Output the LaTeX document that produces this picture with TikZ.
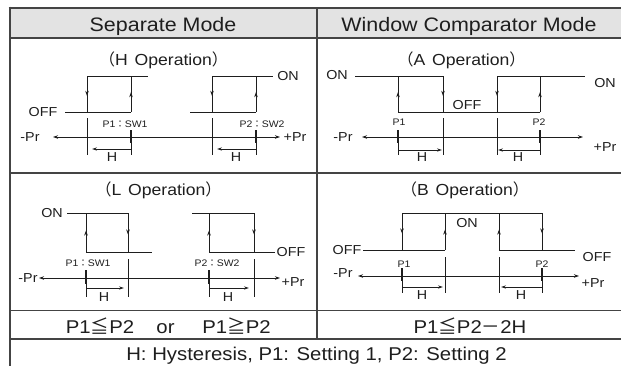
\documentclass[tikz,border=0pt]{standalone}
\usepackage{fontspec}
\setmainfont[FakeStretch=1.1]{Liberation Sans}
\newfontfamily\cjk{Noto Sans CJK JP}
\usetikzlibrary{arrows.meta,decorations.markings}
\definecolor{lc}{HTML}{1E1E1E}
\definecolor{hd}{HTML}{E3E3E3}
\definecolor{bd}{HTML}{444444}
\begin{document}
\begin{tikzpicture}[x=1pt,y=-1pt,
 ln/.style={line width=0.9pt,draw=lc},
 axisline/.style={ln,{Stealth[length=5pt,width=3.5pt]}-{Stealth[length=5pt,width=3.5pt]}},
 harr/.style={ln,-{Stealth[length=5pt,width=3.2pt]}},
 midarr/.style={ln,postaction=decorate,decoration={markings,mark=at position 0.55 with {\arrow{Stealth[length=5pt,width=3.6pt]}}}},
 ptick/.style={line width=1.8pt,draw=lc},
 lab/.style={font=\fontsize{13}{13}\selectfont,text=lc,inner sep=0pt},
 small/.style={font=\fontsize{9.5}{9.5}\selectfont,text=lc,inner sep=0pt},
 ttl/.style={font=\fontsize{16}{16}\selectfont,text=lc,inner sep=0pt,anchor=base},
 hdr/.style={font=\fontsize{19.5}{19.5}\selectfont,text=lc,inner sep=0pt,anchor=base},
 big/.style={font=\fontsize{18.5}{18.5}\selectfont,text=lc,inner sep=0pt,anchor=base},
 tbl/.style={draw=bd,line width=1.2pt},
 tblb/.style={draw=bd,line width=2pt},
]
\useasboundingbox (0,0) rectangle (621,365);
% ---------- table ----------
\fill[hd] (9.5,7.5) rectangle (622,38);
\draw[tblb] (8.5,7.5) -- (622,7.5);
\draw[tblb] (9.5,38) -- (622,38);
\draw[tblb] (9.5,6.5) -- (9.5,366);
\draw[tbl] (317,7.5) -- (317,339);
\draw[tbl] (9.5,173) -- (622,173);
\draw[tbl] (9.5,310.5) -- (622,310.5);
\draw[tbl] (9.5,339) -- (622,339);
\node[hdr] (h1) at (163,31.5) {Separate Mode};
\node[hdr] (h2) at (469,31.5) {Window Comparator Mode};
% ---------- H operation ----------
\node[ttl] (tH) at (163.5,65) {{\cjk （}H\hspace{2pt} Operation{\cjk ）}};
\draw[ln] (87,76) -- (148,76);
\draw[midarr] (87,76) -- (87,112);
\draw[midarr] (131,112) -- (131,76);
\draw[ln] (65,112) -- (131,112);
\draw[ln] (212,76) -- (273,76);
\draw[midarr] (212,76) -- (212,112);
\draw[midarr] (256,112) -- (256,76);
\draw[ln] (190,112) -- (256,112);
\node[lab] (offH) at (43,112) {OFF};
\node[lab] (onH) at (288,76) {ON};
\node[small] (p1H) at (125,124) {P1{\cjk ：}SW1};
\node[small] (p2H) at (262,124) {P2{\cjk ：}SW2};
\draw[axisline] (53,137) -- (280,137);
\node[lab] (mH) at (30,137) {-Pr};
\node[lab] (pH) at (295,137) {+Pr};
\draw[ln] (87,118) -- (87,155);
\draw[ln] (212,118) -- (212,155);
\draw[ln] (131,130) -- (131,155);
\draw[ln] (256,130) -- (256,155);
\draw[ptick] (131,130) -- (131,143);
\draw[ptick] (256,130) -- (256,143);
\draw[harr] (131,149) -- (92,149);
\draw[harr] (256,149) -- (217,149);
\node[lab] (hH1) at (112,157) {H};
\node[lab] (hH2) at (236,157) {H};
% ---------- A operation ----------
\node[ttl] (tA) at (461.5,65) {{\cjk （}A\hspace{2pt} Operation{\cjk ）}};
\node[lab] (onA1) at (337,75) {ON};
\draw[ln] (355,76) -- (443,76);
\draw[midarr] (398,112) -- (398,76);
\draw[midarr] (443,76) -- (443,112);
\draw[ln] (398,112) -- (540,112);
\draw[midarr] (497,76) -- (497,112);
\draw[ln] (497,76) -- (585,76);
\draw[midarr] (540,112) -- (540,76);
\node[lab] (onA2) at (605,83) {ON};
\node[lab] (offA) at (467,105) {OFF};
\node[small] (p1A) at (399,122) {P1};
\node[small] (p2A) at (539,122) {P2};
\draw[axisline] (362,137) -- (583,137);
\node[lab] (mA) at (343,137) {-Pr};
\node[lab] (pA) at (605,147) {+Pr};
\draw[ln] (443,118) -- (443,155);
\draw[ln] (497,118) -- (497,155);
\draw[ln] (398,130) -- (398,155);
\draw[ln] (540,130) -- (540,155);
\draw[ptick] (398,130) -- (398,143);
\draw[ptick] (540,130) -- (540,143);
\draw[harr] (398,150) -- (442,150);
\draw[harr] (540,150) -- (498,150);
\node[lab] (hA1) at (422,157) {H};
\node[lab] (hA2) at (518,157) {H};
% ---------- L operation ----------
\node[ttl] (tL) at (158.5,195) {{\cjk （}L\hspace{2pt} Operation{\cjk ）}};
\node[lab] (onL) at (52,213) {ON};
\draw[ln] (67,213) -- (128,213);
\draw[midarr] (86,252) -- (86,213);
\draw[midarr] (128,213) -- (128,252);
\draw[ln] (86,252) -- (152,252);
\draw[ln] (192,213) -- (254,213);
\draw[midarr] (209,252) -- (209,213);
\draw[midarr] (254,213) -- (254,252);
\draw[ln] (209,252) -- (275,252);
\node[lab] (offL) at (291,252) {OFF};
\node[small] (p1L) at (88,263) {P1{\cjk ：}SW1};
\node[small] (p2L) at (217,263) {P2{\cjk ：}SW2};
\draw[axisline] (39,278) -- (280,278);
\node[lab] (mL) at (28,278) {-Pr};
\node[lab] (pL) at (293,282) {+Pr};
\draw[ln] (128,259) -- (128,297);
\draw[ln] (254,259) -- (254,297);
\draw[ln] (86,270) -- (86,297);
\draw[ln] (209,270) -- (209,297);
\draw[ptick] (86,270) -- (86,284);
\draw[ptick] (209,270) -- (209,284);
\draw[harr] (86,288) -- (124,288);
\draw[harr] (209,288) -- (249,288);
\node[lab] (hL1) at (104,297) {H};
\node[lab] (hL2) at (228,297) {H};
% ---------- B operation ----------
\node[ttl] (tB) at (465,195) {{\cjk （}B\hspace{2pt} Operation{\cjk ）}};
\draw[ln] (402,213) -- (543,213);
\draw[midarr] (402,213) -- (402,250);
\draw[midarr] (445,250) -- (445,213);
\draw[midarr] (499,250) -- (499,213);
\draw[midarr] (542,213) -- (542,250);
\draw[ln] (363,250) -- (445,250);
\draw[ln] (499,250) -- (575,250);
\node[lab] (offB1) at (347,250) {OFF};
\node[lab] (onB) at (467,223) {ON};
\node[lab] (offB2) at (597,257) {OFF};
\node[small] (p1B) at (404,264) {P1};
\node[small] (p2B) at (542,264) {P2};
\draw[axisline] (358,276) -- (579,276);
\node[lab] (mB) at (343,273) {-Pr};
\node[lab] (pB) at (593,283) {+Pr};
\draw[ln] (445,257) -- (445,293);
\draw[ln] (499,257) -- (499,293);
\draw[ln] (402,268) -- (402,293);
\draw[ln] (542,268) -- (542,293);
\draw[ptick] (402,268) -- (402,281);
\draw[ptick] (542,268) -- (542,281);
\draw[harr] (402,287) -- (443,287);
\draw[harr] (542,287) -- (501,287);
\node[lab] (hB1) at (422,295) {H};
\node[lab] (hB2) at (521,295) {H};
% ---------- bottom rows ----------
\node[big] (c1) at (100,333) {P1{\cjk ≦}P2};
\node[big] (c2) at (165.5,333) {or};
\node[big] (c3) at (236.5,333) {P1{\cjk ≧}P2};
\node[big] (c4) at (470,333) {P1{\cjk ≦}P2{\cjk －}2H};
\node[big,font=\fontsize{18.5}{18.5}\selectfont] (ft) at (316.5,360) {H: Hysteresis, P1: Setting 1, P2: Setting 2};
\end{tikzpicture}
\end{document}
